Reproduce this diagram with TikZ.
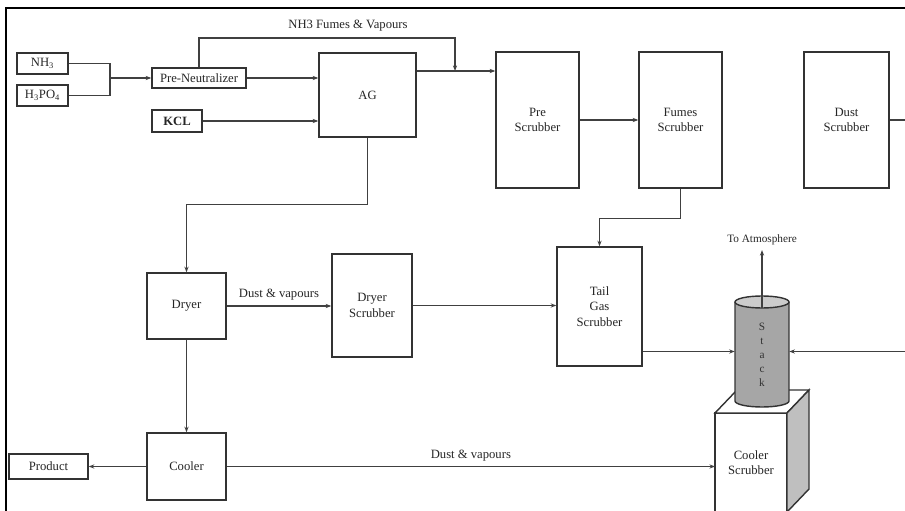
\documentclass[tikz,border=0pt]{standalone}
\usepackage{fontspec}
\setmainfont{Liberation Serif}
\usepackage{tikz}
\usetikzlibrary{arrows.meta}

\begin{document}
\begin{tikzpicture}[
    x=0.025cm, y=0.025cm,
    >={Stealth[length=4pt,width=3pt]},
    proc/.style={
        draw=black!80,
        line width=1pt,
        fill=white,
        align=center,
        inner sep=1pt,
        text=black!85,
        font=\fontsize{9}{10.8}\selectfont
    },
    flow/.style={->, line width=0.95pt, draw=black!75},
    pipe/.style={line width=0.95pt, draw=black!75},
    lbl/.style={text=black!85, font=\fontsize{9}{10}\selectfont}
]

\useasboundingbox (0,0) rectangle (905,-511);

% Frame
\draw[
    line width=2pt,
    black
] (6,-511) -- (6,-8) -- (905,-8);

% Feeds
\node[proc, minimum width=1.275cm, minimum height=0.525cm] (nh) at (42.5,-63.5) {NH\textsubscript{3}};
\node[proc, minimum width=1.275cm, minimum height=0.525cm] (hpo) at (42.5,-95.5) {H\textsubscript{3}PO\textsubscript{4}};
\node[proc, minimum width=2.35cm, minimum height=0.5cm] (preneut) at (199,-78) {Pre-Neutralizer};
\node[proc, minimum width=1.25cm, minimum height=0.55cm,
    font=\fontsize{9}{10.8}\selectfont\bfseries] (kcl) at (177,-121) {KCL};
\node[proc, minimum width=2.425cm, minimum height=2.1cm] (ag) at (367.5,-95) {AG};

% Scrubbers
\node[proc, minimum width=2.075cm, minimum height=3.4cm] (presc) at (537.5,-120) {Pre\\Scrubber};
\node[proc, minimum width=2.075cm, minimum height=3.4cm] (fumsc) at (680.5,-120) {Fumes\\Scrubber};
\node[proc, minimum width=2.125cm, minimum height=3.4cm] (dustsc) at (846.5,-120) {Dust\\Scrubber};
\node[proc, minimum width=2.125cm, minimum height=2.975cm] (tailsc) at (599.5,-306.5) {Tail\\Gas\\Scrubber};
\node[proc, minimum width=2cm, minimum height=2.575cm] (drysc) at (372,-305.5) {Dryer\\Scrubber};

% Dryer, cooler, product
\node[proc, minimum width=1.975cm, minimum height=1.65cm] (dryer) at (186.5,-306) {Dryer};
\node[proc, minimum width=1.975cm, minimum height=1.675cm] (cooler) at (186.5,-466.5) {Cooler};
\node[proc, minimum width=1.975cm, minimum height=0.625cm] (product) at (48.5,-466.5) {Product};

% Cooler scrubber (box)
\node[proc, outer sep=0pt, minimum width=1.8cm, minimum height=2.475cm] (coolsc) at (751,-462.5) {Cooler\\Scrubber};
\filldraw[
    fill=white,
    draw=black!80,
    line width=1pt
] (coolsc.north west) -- ++(22,23) -- ++(72,0) -- (coolsc.north east) -- cycle;
\filldraw[
    fill=gray!50,
    draw=black!80,
    line width=1pt
] (coolsc.north east) -- ++(22,23) -- ++(0,-99) -- (coolsc.south east) -- cycle;

% Stack
\node[inner sep=0pt, minimum width=1.35cm, minimum height=2.775cm] (stack) at (762,-351.5) {};
\coordinate (stktop) at (762,-302);
\coordinate (stkbot) at (762,-401);
\fill[gray!70] (stkbot) ellipse[x radius=27, y radius=6];
\fill[gray!70] (735,-302) rectangle (789,-401);
\draw[
    line width=1pt,
    black!80
] (735,-302) -- (735,-401) arc[start angle=180, end angle=360, x radius=27, y radius=6] -- (789,-302);
\filldraw[
    fill=gray!40,
    draw=black!80,
    line width=1pt
] (stktop) ellipse[x radius=27, y radius=6];
\node[lbl, align=center, text=black!80, font=\fontsize{8}{10}\selectfont] (stackname) at (762,-355) {S\\t\\a\\c\\k};

\node[lbl, font=\fontsize{8}{9}\selectfont] (atm) at (762,-240) {To Atmosphere};
\coordinate (stkout) at (762,-308);
\draw[flow] (stkout) -- (atm.south);

% Free ends at the right edge
\coordinate (rim1) at (905,-120);
\coordinate (rim2) at (905,-351.5);

% Feed lines
\coordinate (mix) at (110,-78);
\draw[pipe] (nh.east) -| (mix);
\draw[pipe] (hpo.east) -| (mix);
\draw[flow] (mix) -- (preneut.west);
\draw[flow] (preneut.east) -- (ag.west |- preneut.east);
\draw[flow] (kcl.east) -- (ag.west |- kcl.east);

% NH3 fumes
\coordinate (fumetop) at (455,-38);
\coordinate (fumein) at (455,-71);
\node[lbl] (fumelbl) at (348,-26) {NH3 Fumes \& Vapours};
\draw[flow] (preneut.north) -- (preneut.north |- fumetop) -- (fumetop) -- (fumein);
\draw[flow] (ag.east |- fumein) -- (presc.west |- fumein);

% Gas side
\draw[flow] (presc.east) -- (fumsc.west);
\draw[flow] (fumsc.south) -- ++(0,-30) -| (tailsc.north);
\draw[pipe] (dustsc.east) -- (rim1);
\draw[flow] (rim2) -- (stack.east);
\draw[flow] (tailsc.east |- stack.west) -- (stack.west);

% Solids side
\draw[flow] (ag.south) -- ++(0,-67) -| (dryer.north);
\draw[flow] (dryer.east) -- (drysc.west |- dryer.east)
    node[lbl, midway, above] (dvdry) {Dust \& vapours};
\draw[flow] (drysc.east) -- (tailsc.west |- drysc.east);
\draw[flow] (dryer.south) -- (cooler.north);
\draw[flow] (cooler.west) -- (product.east);
\draw[flow] (cooler.east) -- (coolsc.west |- cooler.east)
    node[lbl, midway, above] (dvcool) {Dust \& vapours};

\end{tikzpicture}
\end{document}
